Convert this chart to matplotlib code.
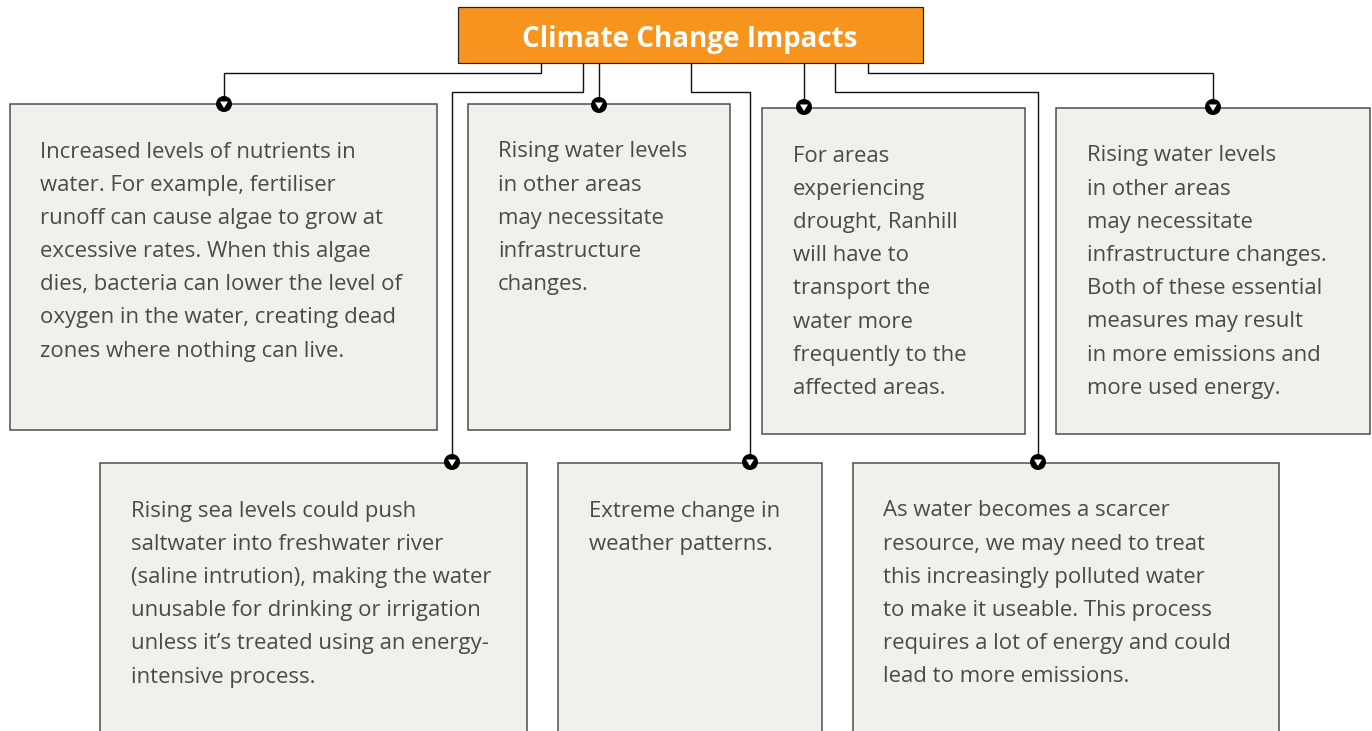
import matplotlib
matplotlib.use("Agg")
import matplotlib.pyplot as plt
from matplotlib.patches import Rectangle, Circle, Polygon

plt.rcParams['font.family'] = ['Open Sans', 'DejaVu Sans']

title = "Climate Change Impacts"

# box texts, one list of lines per box
texts = [
    ["Increased levels of nutrients in", "water. For example, fertiliser",
     "runoff can cause algae to grow at", "excessive rates. When this algae",
     "dies, bacteria can lower the level of", "oxygen in the water, creating dead",
     "zones where nothing can live."],
    ["Rising water levels", "in other areas", "may necessitate",
     "infrastructure", "changes."],
    ["For areas", "experiencing", "drought, Ranhill", "will have to",
     "transport the", "water more", "frequently to the", "affected areas."],
    ["Rising water levels", "in other areas", "may necessitate",
     "infrastructure changes.", "Both of these essential",
     "measures may result", "in more emissions and", "more used energy."],
    ["Rising sea levels could push", "saltwater into freshwater river",
     "(saline intrution), making the water", "unusable for drinking or irrigation",
     "unless it\u2019s treated using an energy-", "intensive process."],
    ["Extreme change in", "weather patterns."],
    ["As water becomes a scarcer", "resource, we may need to treat",
     "this increasingly polluted water", "to make it useable. This process",
     "requires a lot of energy and could", "lead to more emissions."],
]

# box geometry in pixels: left, top, right, bottom
boxes = [(10, 104, 437, 430), (468, 104, 730, 430), (762, 108, 1025, 434),
         (1056, 108, 1370, 434), (100, 463, 527, 745), (558, 463, 822, 745),
         (853, 463, 1279, 745)]
text_pos = [(40, 152), (498, 152), (793, 156), (1087, 156),
            (131, 511), (589, 511), (883, 511)]
# connector paths from the title box down to each marker
paths = [
    [(541, 63), (541, 73), (224, 73), (224, 104)],
    [(599, 63), (599, 105)],
    [(804, 63), (804, 107)],
    [(868, 63), (868, 73), (1213, 73), (1213, 107)],
    [(583, 63), (583, 92), (452, 92), (452, 462)],
    [(691, 63), (691, 92), (750, 92), (750, 462)],
    [(835, 63), (835, 92), (1038, 92), (1038, 462)],
]

W, H = 1372, 731
fig = plt.figure(figsize=(W / 100, H / 100), dpi=100)
ax = fig.add_axes([0, 0, 1, 1])
ax.set_xlim(0, W)
ax.set_ylim(H, 0)
ax.axis('off')

px = 0.72  # one pixel in points

for p in paths:
    xs = [q[0] for q in p]
    ys = [q[1] for q in p]
    ax.plot(xs, ys, color='#111111', lw=1.4 * px, zorder=1,
            solid_joinstyle='miter')

for (l, t, r, b), lines, (tx, ty) in zip(boxes, texts, text_pos):
    ax.add_patch(Rectangle((l, t), r - l, b - t, facecolor='#F0F0EC',
                           edgecolor='#4a4a4a', lw=1.5 * px, zorder=2))
    for i, s in enumerate(lines):
        ax.text(tx, ty + i * 33.2, s, fontsize=15.9, color='#4a4a4a',
                ha='left', va='center', zorder=3)

for p in paths:
    mx, my = p[-1]
    ax.add_patch(Circle((mx, my), 8, facecolor='black', edgecolor='none',
                        zorder=4))
    ax.add_patch(Polygon([(mx - 4, my - 2.5), (mx + 4, my - 2.5), (mx, my + 4)],
                         closed=True, facecolor='white', edgecolor='none',
                         zorder=5))

ax.add_patch(Rectangle((458, 7), 465, 56, facecolor='#F7941D',
                       edgecolor='#222222', lw=1.2 * px, zorder=6))
ax.text(690, 39, title, fontsize=20, fontweight='bold', color='white',
        ha='center', va='center', zorder=7)

fig.savefig('out.png', dpi=100)
